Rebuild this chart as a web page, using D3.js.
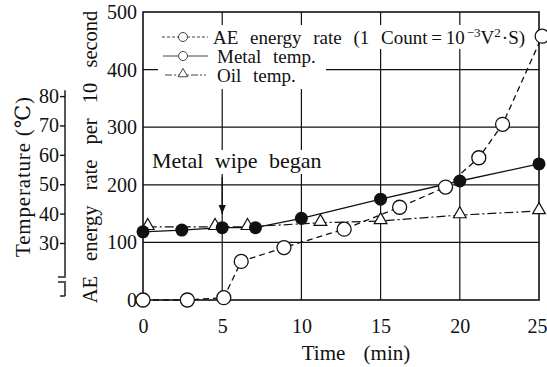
<!DOCTYPE html>
<html>
<head>
<meta charset="utf-8">
<script src="https://cdn.jsdelivr.net/npm/d3@7"></script>
<style>
  body { margin: 0; background: #fff; }
  svg { display: block; }
  text { fill: #111; }
</style>
</head>
<body>
<svg width="547" height="367"></svg>
<script>
const serif = "'Liberation Serif', 'Times New Roman', Times, 'DejaVu Serif', 'Noto Serif', serif";

// time (min) ticks and the two y axes
const timeTicks = [0, 5, 10, 15, 20, 25];
const aeTicks = [0, 100, 200, 300, 400, 500];
const tempTicks = [30, 40, 50, 60, 70, 80];

// AE energy rate (counts per 10 s)
const aeTime = [0, 2.8, 5.1, 6.2, 8.9, 12.7, 16.2, 19.1, 21.2, 22.7, 25.2];
const aeRate = [0, 0, 4, 67, 91, 123, 161, 196, 247, 305, 458];

// metal temperature (°C)
const metalTime = [0, 2.45, 5, 7.1, 10, 15, 20, 25];
const metalTemp = [33.8, 34.4, 35.2, 35.2, 38.4, 44.9, 51.1, 56.9];

// oil temperature (°C)
const oilTime = [0.3, 4.55, 6.6, 11.2, 15, 20, 25];
const oilTemp = [35.5, 35.5, 35.5, 36.9, 37.5, 39.5, 40.9];

const svg = d3.select("svg");

const x = d3.scaleLinear().domain([0, 25]).range([143, 539]);
const y = d3.scaleLinear().domain([0, 500]).range([300, 12]);
// temperature axis sits on the same paper: 30 °C ~ 99 counts, 80 °C ~ 354 counts
const yT = d3.scaleLinear().domain([30, 80]).range([y(99), y(354)]);

const grid = svg.append("g").attr("stroke", "#111").attr("stroke-width", 1.2);
[100, 200, 300, 400].forEach(v => {
    grid.append("line").attr("x1", x(0)).attr("x2", x(25)).attr("y1", y(v)).attr("y2", y(v));
});
[5, 10, 15, 20].forEach(v => {
    grid.append("line").attr("x1", x(v)).attr("x2", x(v)).attr("y1", y(0)).attr("y2", y(500));
});
svg.append("rect")
    .attr("x", x(0)).attr("y", y(500))
    .attr("width", x(25) - x(0)).attr("height", y(0) - y(500))
    .attr("fill", "none").attr("stroke", "#111").attr("stroke-width", 1.6);

// left AE axis labels
svg.append("g")
    .attr("transform", "translate(" + (x(0) - 4) + ",0)")
    .call(d3.axisLeft(y).tickValues(aeTicks).tickSize(0).tickPadding(2))
    .call(g => g.select(".domain").remove())
    .call(g => g.attr("font-size", 20));

// bottom time labels
const xAxis = svg.append("g")
    .attr("transform", "translate(0," + (y(0) + 16) + ")")
    .call(d3.axisBottom(x).tickValues(timeTicks).tickSize(0))
    .call(g => g.select(".domain").remove())
    .call(g => g.attr("font-size", 20));
xAxis.selectAll("text").filter(d => d === 25).attr("dx", -2);

// temperature axis with a break near the bottom
const tx = 65;
const tAxis = svg.append("g")
    .attr("transform", "translate(" + tx + ",0)")
    .call(d3.axisLeft(yT).tickValues(tempTicks).tickSize(5).tickPadding(1))
    .call(g => g.select(".domain").remove())
    .call(g => g.attr("font-size", 20));
tAxis.selectAll("line").attr("stroke", "#111").attr("stroke-width", 1.4);
const brk = svg.append("g").attr("stroke", "#111").attr("stroke-width", 1.4).attr("fill", "none");
brk.append("line").attr("x1", tx).attr("x2", tx).attr("y1", yT(82)).attr("y2", 276);
brk.append("line").attr("x1", tx - 7).attr("x2", tx + 1).attr("y1", 277).attr("y2", 277);
brk.append("line").attr("x1", tx - 7).attr("x2", tx + 1).attr("y1", 282).attr("y2", 282);
brk.append("line").attr("x1", tx).attr("x2", tx).attr("y1", 283).attr("y2", 296);
brk.append("line").attr("x1", tx - 5).attr("x2", tx).attr("y1", 296).attr("y2", 296);

// axis titles
svg.append("text")
    .attr("transform", "translate(30,177) rotate(-90)")
    .attr("text-anchor", "middle").attr("font-size", 21)
    .attr("textLength", 160).attr("lengthAdjust", "spacing")
    .text("Temperature (℃)");
svg.append("text")
    .attr("transform", "translate(97,157) rotate(-90)")
    .attr("text-anchor", "middle").attr("font-size", 20.5)
    .attr("word-spacing", 10)
    .text("AE energy rate per 10 second");
svg.append("text")
    .attr("x", 356).attr("y", 360)
    .attr("text-anchor", "middle").attr("font-size", 21)
    .attr("word-spacing", 13)
    .text("Time (min)");

// annotation
svg.append("rect").attr("x", 150).attr("y", 150).attr("width", 178).attr("height", 24).attr("fill", "#fff");
svg.append("text")
    .attr("x", 152).attr("y", 168).attr("font-size", 22)
    .attr("word-spacing", 6)
    .text("Metal wipe began");
svg.append("defs").append("marker")
    .attr("id", "arr").attr("viewBox", "0 0 10 10")
    .attr("refX", 10).attr("refY", 5)
    .attr("markerWidth", 7).attr("markerHeight", 9)
    .attr("orient", "auto")
    .append("path").attr("d", "M0,1 L10,5 L0,9 Z").attr("fill", "#111");
svg.append("line")
    .attr("x1", x(5)).attr("x2", x(5)).attr("y1", 177).attr("y2", 214)
    .attr("stroke", "#111").attr("stroke-width", 1.3)
    .attr("marker-end", "url(#arr)");

// series lines
const lineAE = d3.line().x(d => x(d[0])).y(d => y(d[1]));
const lineT = d3.line().x(d => x(d[0])).y(d => yT(d[1]));
const aeData = d3.zip(aeTime, aeRate);
const metalData = d3.zip(metalTime, metalTemp);
const oilData = d3.zip(oilTime, oilTemp);

svg.append("path").datum(oilData).attr("d", lineT)
    .attr("fill", "none").attr("stroke", "#111").attr("stroke-width", 1.2)
    .attr("stroke-dasharray", "9,3,2,3");
svg.append("path").datum(metalData).attr("d", lineT)
    .attr("fill", "none").attr("stroke", "#111").attr("stroke-width", 1.3);
svg.append("path").datum(aeData).attr("d", lineAE)
    .attr("fill", "none").attr("stroke", "#111").attr("stroke-width", 1.3)
    .attr("stroke-dasharray", "6,4");

const tri = d3.symbol().type(d3.symbolTriangle).size(70);
svg.append("g").selectAll("path").data(oilData).enter().append("path")
    .attr("d", tri)
    .attr("transform", d => "translate(" + x(d[0]) + "," + (yT(d[1]) - 1) + ")")
    .attr("fill", "#fff").attr("stroke", "#111").attr("stroke-width", 1.2);
svg.append("g").selectAll("circle").data(metalData).enter().append("circle")
    .attr("cx", d => x(d[0])).attr("cy", d => yT(d[1])).attr("r", 6.5)
    .attr("fill", "#111");
svg.append("g").selectAll("circle").data(aeData).enter().append("circle")
    .attr("cx", d => x(d[0])).attr("cy", d => y(d[1])).attr("r", 7)
    .attr("fill", "#fff").attr("stroke", "#111").attr("stroke-width", 1.3);

// legend
const lg = svg.append("g");
lg.append("rect").attr("x", 158).attr("y", 25).attr("width", 372).attr("height", 24).attr("fill", "#fff");
lg.append("rect").attr("x", 158).attr("y", 49).attr("width", 168).attr("height", 40).attr("fill", "#fff");
const rows = [44, 63, 82];   // baselines
const ls = lg.append("g").attr("stroke", "#444").attr("stroke-width", 1).attr("fill", "none");
ls.append("line").attr("x1", 162).attr("x2", 208).attr("y1", rows[0] - 7).attr("y2", rows[0] - 7).attr("stroke-dasharray", "3,2");
ls.append("line").attr("x1", 163).attr("x2", 208).attr("y1", rows[1] - 7).attr("y2", rows[1] - 7);
ls.append("line").attr("x1", 165).attr("x2", 206).attr("y1", rows[2] - 7).attr("y2", rows[2] - 7).attr("stroke-dasharray", "7,2,2,2");
ls.append("circle").attr("cx", 183).attr("cy", rows[0] - 7).attr("r", 4.5).attr("fill", "#fff");
ls.append("circle").attr("cx", 183).attr("cy", rows[1] - 7).attr("r", 4.5).attr("fill", "#fff");
ls.append("path").attr("d", d3.symbol().type(d3.symbolTriangle).size(40))
    .attr("transform", "translate(183," + (rows[2] - 8) + ")").attr("fill", "#fff");

const t1 = lg.append("text").attr("x", 213).attr("y", rows[0]).attr("font-size", 19)
    .attr("word-spacing", 7);
t1.append("tspan").text("AE energy rate (1 Count\u2009=\u200910");
t1.append("tspan").attr("dx", 2).attr("baseline-shift", "super").attr("font-size", 13).text("−3");
t1.append("tspan").text("V");
t1.append("tspan").attr("baseline-shift", "super").attr("font-size", 13).text("2");
t1.append("tspan").attr("dx", 1).text("·S)");
lg.append("text").attr("x", 217).attr("y", rows[1]).attr("font-size", 19)
    .attr("word-spacing", 7).text("Metal temp.");
lg.append("text").attr("x", 217).attr("y", rows[2]).attr("font-size", 19)
    .attr("word-spacing", 7).text("Oil temp.");

// one serif face for every label, axis ticks included
svg.selectAll("text").style("font-family", serif);
</script>
</body>
</html>
